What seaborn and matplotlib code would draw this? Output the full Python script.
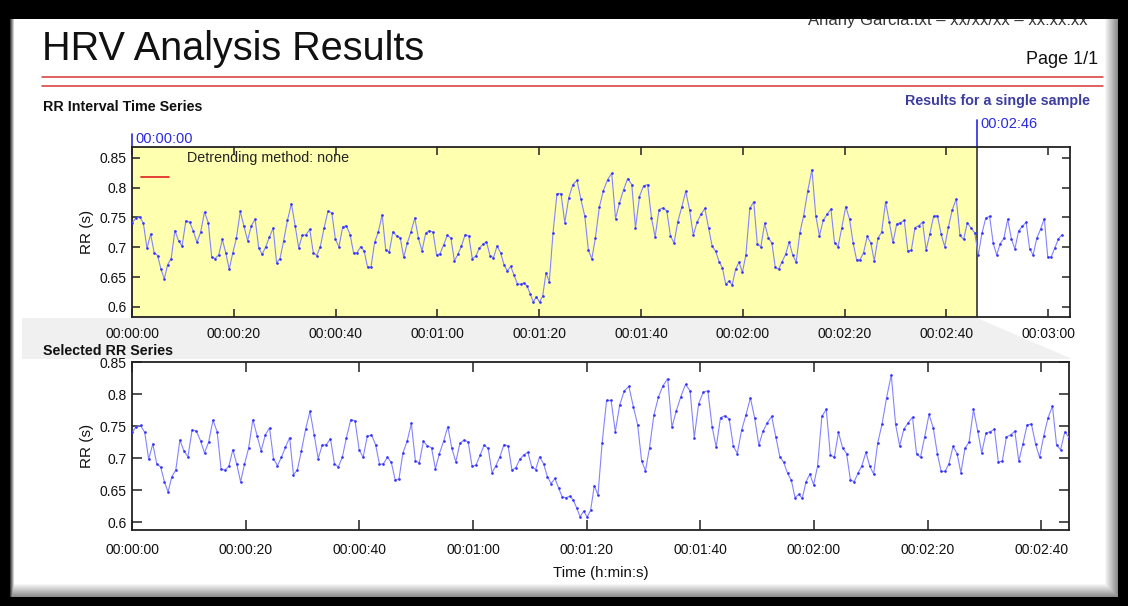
import numpy as np
import pandas as pd
import matplotlib
matplotlib.use("Agg")
import matplotlib.pyplot as plt
import seaborn as sns
from matplotlib.patches import Rectangle, Polygon
from matplotlib.lines import Line2D
from matplotlib.ticker import FuncFormatter, FixedLocator

W, H = 1128, 606

# RR intervals (s) inside the analysed selection
rr_selected = [
    0.740, 0.749, 0.751, 0.740, 0.698, 0.722, 0.691, 0.686, 0.663, 0.647,
    0.671, 0.681, 0.728, 0.711, 0.702, 0.744, 0.742, 0.727, 0.708, 0.725,
    0.759, 0.741, 0.683, 0.681, 0.687, 0.713, 0.690, 0.663, 0.690, 0.715,
    0.760, 0.735, 0.711, 0.736, 0.747, 0.699, 0.688, 0.701, 0.717, 0.732,
    0.674, 0.681, 0.711, 0.745, 0.773, 0.736, 0.699, 0.720, 0.721, 0.730,
    0.691, 0.686, 0.701, 0.732, 0.760, 0.758, 0.713, 0.701, 0.734,
    0.736, 0.721, 0.690, 0.691, 0.701, 0.693, 0.666, 0.667, 0.708, 0.726,
    0.754, 0.696, 0.692, 0.726, 0.719, 0.716, 0.683, 0.707, 0.726, 0.749,
    0.715, 0.694, 0.723, 0.728, 0.725, 0.687, 0.689, 0.704, 0.720, 0.715,
    0.677, 0.688, 0.702, 0.721, 0.719, 0.681, 0.685, 0.698, 0.705, 0.709,
    0.686, 0.682, 0.702, 0.691, 0.671, 0.660, 0.668, 0.653, 0.639, 0.638,
    0.640, 0.635, 0.622, 0.608, 0.617, 0.608, 0.618, 0.657, 0.642, 0.723,
    0.790, 0.790, 0.741, 0.783, 0.805, 0.812, 0.780, 0.752, 0.696, 0.680,
    0.716, 0.767, 0.795, 0.813, 0.824, 0.748, 0.774, 0.796, 0.815, 0.805,
    0.732, 0.785, 0.803, 0.805, 0.749, 0.717, 0.763, 0.766, 0.761, 0.719,
    0.707, 0.743, 0.767, 0.794, 0.762, 0.720, 0.742, 0.755, 0.765, 0.733,
    0.702, 0.693, 0.676, 0.665, 0.638, 0.643, 0.637, 0.663, 0.675, 0.658,
    0.687, 0.765, 0.776, 0.705, 0.701,
    0.740, 0.716, 0.707, 0.666, 0.663, 0.676, 0.688, 0.709, 0.687, 0.675,
    0.724, 0.753, 0.794, 0.830, 0.753, 0.719, 0.745, 0.755, 0.764, 0.707,
    0.701, 0.733, 0.768, 0.747, 0.707, 0.679, 0.679, 0.691, 0.718, 0.707,
    0.677, 0.715, 0.725, 0.776, 0.742, 0.708, 0.739, 0.741, 0.745, 0.694,
    0.695, 0.733, 0.736, 0.742, 0.695, 0.722, 0.752, 0.753, 0.722, 0.701,
    0.734, 0.763, 0.781, 0.720, 0.713, 0.741, 0.732,
]

# RR intervals (s) recorded after the selection
rr_after = [
    0.724, 0.687, 0.723, 0.749, 0.752, 0.707, 0.687, 0.706, 0.715, 0.747,
    0.714, 0.697, 0.727, 0.735, 0.742, 0.697, 0.687, 0.715, 0.730, 0.748,
    0.683, 0.684, 0.699, 0.714, 0.721,
]

selection_start = 0      # s
selection_end = 166      # s
top_xticks = [0, 20, 40, 60, 80, 100, 120, 140, 160, 180]
bottom_xticks = [0, 20, 40, 60, 80, 100, 120, 140, 160]
y_ticks = [0.6, 0.65, 0.7, 0.75, 0.8, 0.85]
y_tick_labels = ["0.6", "0.65", "0.7", "0.75", "0.8", "0.85"]

# beat times: cumulative RR, starting at the first beat
rr_all = np.array(rr_selected + rr_after)
t_all = np.cumsum(rr_all) - rr_all[0]
n_sel = len(rr_selected)
df_all = pd.DataFrame({"time": t_all, "rr": rr_all})
df_sel = df_all.iloc[:n_sel]

sns.set_theme(style="white")
plt.rcParams["font.family"] = ["Liberation Sans Narrow", "Liberation Sans", "DejaVu Sans"]

fig = plt.figure(figsize=(W / 100, H / 100), dpi=100)
fig.patch.set_facecolor("black")


def frac_rect(x0, y0, x1, y1):
    return [x0 / W, 1 - y1 / H, (x1 - x0) / W, (y1 - y0) / H]


def hms(sec, _pos=None):
    sec = int(round(sec))
    return f"{sec // 3600:02d}:{(sec % 3600) // 60:02d}:{sec % 60:02d}"


# ---- page background with a soft frame shadow ----
bg = np.zeros((H, W, 3))
px0, px1, py0, py1 = 10, 1118, 8, 597
bg[py0:py1, px0:px1] = 1.0
for i in range(14):
    g = 0.55 + 0.45 * i / 13
    bg[py1 - 1 - i, px0:px1] = np.minimum(bg[py1 - 1 - i, px0:px1], g)
    bg[py0:py1, px1 - 1 - i] = np.minimum(bg[py0:py1, px1 - 1 - i], g)
for i in range(5):
    g = 0.25 + 0.75 * i / 4
    bg[py0:py1, px0 + i] = np.minimum(bg[py0:py1, px0 + i], g)

ax_bg = fig.add_axes([0, 0, 1, 1], zorder=-10)
ax_bg.imshow(bg, extent=(0, W, H, 0), aspect="auto", interpolation="bilinear")
ax_bg.set_xlim(0, W)
ax_bg.set_ylim(H, 0)
ax_bg.axis("off")

# header
ax_bg.text(1088, 25, "Anahy Garcia.txt \u2013 xx/xx/xx \u2013 xx:xx:xx", ha="right",
           va="baseline", fontsize=12, color="#333333")
ax_bg.add_patch(Rectangle((0, 0), W, 19, facecolor="black", edgecolor="none", zorder=5))
ax_bg.text(42, 60, "HRV Analysis Results", ha="left", va="baseline",
           fontsize=28.5, color="#111111")
ax_bg.text(1098, 64, "Page 1/1", ha="right", va="baseline", fontsize=13, color="#111111")
for yy in (77, 86):
    ax_bg.add_line(Line2D([42, 1103], [yy, yy], color="#d93535", lw=1.1))

ax_bg.text(43, 107, "RR Interval Time Series", ha="left", va="center",
           fontsize=10.3, fontweight="bold", color="#111111")
ax_bg.text(1090, 101, "Results for a single sample", ha="right", va="center",
           fontsize=10.3, fontweight="bold", color="#3d3da0")

# grey band linking the selection to the detail plot
ax_bg.add_patch(Polygon([(22, 318), (977, 318), (1072, 359), (22, 359)],
                        closed=True, facecolor="#f0f0f0", edgecolor="none"))
ax_bg.text(43, 351, "Selected RR Series", ha="left", va="center",
           fontsize=10.3, fontweight="bold", color="#111111", zorder=6)

line_kw = dict(color="#8484ff", lw=0.8, marker="o", markersize=1.9,
               markerfacecolor="#3030ff", markeredgewidth=0,
               sort=False, estimator=None)
spine_color = "#222222"


def style_axes(ax, tick_len, xpad):
    for s in ax.spines.values():
        s.set_color(spine_color)
        s.set_linewidth(1.3)
    ax.tick_params(direction="in", length=tick_len, width=1.1, color=spine_color,
                   top=True, right=True, bottom=True, left=True,
                   labelsize=10, labelcolor="#111111")
    ax.tick_params(axis="x", pad=xpad)
    ax.tick_params(axis="y", pad=4)
    ax.yaxis.set_major_locator(FixedLocator(y_ticks))
    ax.set_yticklabels(y_tick_labels)
    ax.xaxis.set_major_formatter(FuncFormatter(hms))


# ---- overview of the whole recording ----
ax1 = fig.add_axes(frac_rect(132, 147, 1070, 317))
ax1.set_facecolor("white")
ax1.axvspan(selection_start, selection_end, color="#ffffb0", zorder=0, lw=0)
ax1.axvline(selection_end, color="#333333", lw=1.2, zorder=1)
sns.lineplot(data=df_all, x="time", y="rr", ax=ax1, zorder=3, **line_kw)
ax1.set_xlim(0, 184.3)
ax1.set_ylim(0.583, 0.868)
ax1.xaxis.set_major_locator(FixedLocator(top_xticks))
style_axes(ax1, 6, 7)
ax1.set_xlabel("")
ax1.set_ylabel("RR (s)", fontsize=11, color="#111111")
ax1.yaxis.set_label_coords(-0.041, 0.5)

xt = ax1.get_xaxis_transform()
for tx, h_top, lab_y in ((selection_start, 13 / 170, 1 + 8 / 170),
                         (selection_end, 27 / 170, 1 + 23 / 170)):
    ax1.plot([tx, tx], [1, 1 + h_top], transform=xt, color="#2a2ae0", lw=1.2,
             clip_on=False)
    ax1.text(tx + 0.7, lab_y, hms(tx), transform=xt, ha="left", va="center",
             fontsize=10.5, color="#2a2ae0")

ax1.text(55 / 938, 0.935, "Detrending method: none", transform=ax1.transAxes,
         ha="left", va="center", fontsize=10.3, color="#222222")
ax1.plot([9 / 938, 37 / 938], [0.824, 0.824], transform=ax1.transAxes,
         color="#e02020", lw=1.2)

# ---- detail of the selected segment ----
ax2 = fig.add_axes(frac_rect(132, 362, 1069, 530))
ax2.set_facecolor("white")
sns.lineplot(data=df_sel, x="time", y="rr", ax=ax2, zorder=3, **line_kw)
ax2.set_xlim(df_sel["time"].iloc[0], df_sel["time"].iloc[-1])
ax2.set_ylim(0.5875, 0.85)
ax2.xaxis.set_major_locator(FixedLocator(bottom_xticks))
style_axes(ax2, 7.5, 9)
ax2.set_xlabel("Time (h:min:s)", fontsize=10.8, color="#111111", labelpad=7)
ax2.set_ylabel("RR (s)", fontsize=11, color="#111111")
ax2.yaxis.set_label_coords(-0.041, 0.5)

fig.savefig("out.png", dpi=100, facecolor=fig.get_facecolor())
